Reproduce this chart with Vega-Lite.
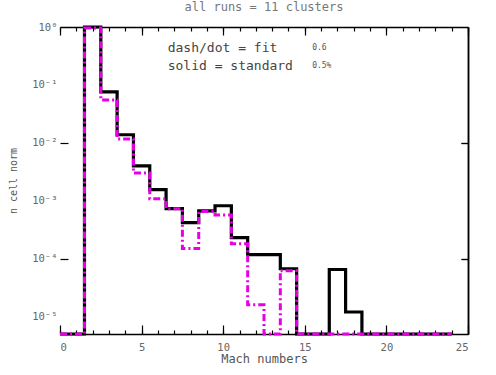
{
  "$schema": "https://vega.github.io/schema/vega-lite/v6.json",
  "width": 408,
  "height": 307,
  "autosize": "none",
  "padding": {"left": 60, "top": 27, "right": 28, "bottom": 41},
  "background": "white",
  "title": {"text": "all runs = 11 clusters", "fontSize": 12, "font": "DejaVu Sans Mono", "fontWeight": "normal", "color": "#777", "offset": 7, "anchor": "middle"},
  "config": {
    "view": {"stroke": null},
    "axis": {"grid": false, "domainWidth": 1.5, "tickWidth": 1.2, "labelFont": "DejaVu Sans Mono", "titleFont": "DejaVu Sans Mono", "labelColor": "#666", "titleColor": "#555", "labelFontSize": 10.5, "titleFontSize": 12, "titleFontWeight": "normal"}
  },
  "datasets": {
    "hist": [
      {"run": "standard", "mach": 0, "n": 5e-6},
      {"run": "standard", "mach": 1, "n": 5e-6},
      {"run": "standard", "mach": 2, "n": 1.0},
      {"run": "standard", "mach": 3, "n": 0.076},
      {"run": "standard", "mach": 4, "n": 0.0138},
      {"run": "standard", "mach": 5, "n": 0.0040},
      {"run": "standard", "mach": 6, "n": 0.00155},
      {"run": "standard", "mach": 7, "n": 0.00073},
      {"run": "standard", "mach": 8, "n": 0.00042},
      {"run": "standard", "mach": 9, "n": 0.00067},
      {"run": "standard", "mach": 10, "n": 0.00082},
      {"run": "standard", "mach": 11, "n": 0.00023},
      {"run": "standard", "mach": 12, "n": 0.000117},
      {"run": "standard", "mach": 13, "n": 0.000117},
      {"run": "standard", "mach": 14, "n": 0.000067},
      {"run": "standard", "mach": 15, "n": 5e-6},
      {"run": "standard", "mach": 16, "n": 5e-6},
      {"run": "standard", "mach": 17, "n": 0.000065},
      {"run": "standard", "mach": 18, "n": 0.000012},
      {"run": "standard", "mach": 19, "n": 5e-6},
      {"run": "standard", "mach": 20, "n": 5e-6},
      {"run": "standard", "mach": 21, "n": 5e-6},
      {"run": "standard", "mach": 22, "n": 5e-6},
      {"run": "standard", "mach": 23, "n": 5e-6},
      {"run": "standard", "mach": 24, "n": 5e-6},
      {"run": "fit", "mach": 0, "n": 5e-6},
      {"run": "fit", "mach": 1, "n": 5e-6},
      {"run": "fit", "mach": 2, "n": 0.96},
      {"run": "fit", "mach": 3, "n": 0.055},
      {"run": "fit", "mach": 4, "n": 0.0117},
      {"run": "fit", "mach": 5, "n": 0.0030},
      {"run": "fit", "mach": 6, "n": 0.00108},
      {"run": "fit", "mach": 7, "n": 0.00073},
      {"run": "fit", "mach": 8, "n": 0.000149},
      {"run": "fit", "mach": 9, "n": 0.00065},
      {"run": "fit", "mach": 10, "n": 0.00057},
      {"run": "fit", "mach": 11, "n": 0.00018},
      {"run": "fit", "mach": 12, "n": 0.000016},
      {"run": "fit", "mach": 13, "n": 5e-6},
      {"run": "fit", "mach": 14, "n": 0.000062},
      {"run": "fit", "mach": 15, "n": 5e-6},
      {"run": "fit", "mach": 16, "n": 5e-6},
      {"run": "fit", "mach": 17, "n": 5e-6},
      {"run": "fit", "mach": 18, "n": 5e-6},
      {"run": "fit", "mach": 19, "n": 5e-6},
      {"run": "fit", "mach": 20, "n": 5e-6},
      {"run": "fit", "mach": 21, "n": 5e-6},
      {"run": "fit", "mach": 22, "n": 5e-6},
      {"run": "fit", "mach": 23, "n": 5e-6},
      {"run": "fit", "mach": 24, "n": 5e-6}
    ],
    "notes": [
      {"mach": 6.6, "n": 0.435, "label": "dash/dot = fit"},
      {"mach": 6.6, "n": 0.213, "label": "solid = standard"}
    ],
    "smallnotes": [
      {"mach": 15.45, "n": 0.435, "label": "0.6"},
      {"mach": 15.45, "n": 0.213, "label": "0.5%"}
    ]
  },
  "layer": [
    {
      "data": {"name": "hist"},
      "transform": [{"filter": "datum.run === 'standard'"}],
      "mark": {"type": "line", "interpolate": "step", "color": "black", "strokeWidth": 3.2},
      "encoding": {
        "x": {"field": "mach", "type": "quantitative", "scale": {"domain": [0, 25], "nice": false, "zero": false},
              "axis": {"orient": "bottom", "values": [0, 5, 10, 15, 20, 25], "tickSize": -9, "labelPadding": 17, "title": "Mach numbers", "titlePadding": 1, "domainColor": "black", "tickColor": "black"}},
        "y": {"field": "n", "type": "quantitative", "scale": {"type": "log", "domain": [5e-6, 1], "nice": false},
              "axis": {"orient": "left", "values": [1, 0.1, 0.01, 0.001, 0.0001, 0.00001], "ticks": false, "domain": false, "domainColor": "transparent", "labelPadding": 3,
                       "labelExpr": "'10' + (round(log(datum.value)/LN10) == 0 ? '⁰' : '⁻' + ['⁰','¹','²','³','⁴','⁵','⁶'][-round(log(datum.value)/LN10)])",
                       "title": "n cell norm", "titleFontSize": 10, "titlePadding": 13}}
      }
    },
    {
      "data": {"name": "hist"},
      "transform": [{"filter": "datum.run === 'fit'"}],
      "mark": {"type": "line", "interpolate": "step", "color": "#e600e6", "strokeWidth": 3, "strokeDash": [7, 3, 2, 3]},
      "encoding": {
        "x": {"field": "mach", "type": "quantitative", "scale": {"domain": [0, 25], "nice": false, "zero": false},
              "axis": {"orient": "bottom", "values": [0,1,2,3,4,5,6,7,8,9,10,11,12,13,14,15,16,17,18,19,20,21,22,23,24,25], "tickSize": -4, "labels": false, "domain": false, "title": null, "tickColor": "black"}},
        "y": {"field": "n", "type": "quantitative", "scale": {"type": "log", "domain": [5e-6, 1], "nice": false},
              "axis": {"orient": "left", "values": [0.01, 0.0001], "tickSize": -8, "labels": false, "domain": false, "domainColor": "transparent", "title": null, "tickColor": "black"}}
      }
    },
    {
      "data": {"name": "notes"},
      "mark": {"type": "text", "align": "left", "baseline": "middle", "font": "DejaVu Sans Mono", "fontSize": 13, "color": "#444"},
      "encoding": {
        "x": {"field": "mach", "type": "quantitative", "scale": {"domain": [0, 25], "nice": false, "zero": false},
              "axis": {"orient": "top", "values": [0, 5, 10, 15, 20, 25], "tickSize": -8, "labels": false, "title": null, "domainColor": "black", "tickColor": "black"}},
        "y": {"field": "n", "type": "quantitative", "scale": {"type": "log", "domain": [5e-6, 1], "nice": false},
              "axis": {"orient": "right", "values": [0.01, 0.0001], "tickSize": -7, "labels": false, "title": null, "domainColor": "black", "tickColor": "black"}},
        "text": {"field": "label"}
      }
    },
    {
      "data": {"name": "smallnotes"},
      "mark": {"type": "text", "align": "left", "baseline": "middle", "font": "DejaVu Sans Mono", "fontSize": 8, "color": "#555"},
      "encoding": {
        "x": {"field": "mach", "type": "quantitative", "scale": {"domain": [0, 25], "nice": false, "zero": false},
              "axis": {"orient": "top", "values": [0,1,2,3,4,5,6,7,8,9,10,11,12,13,14,15,16,17,18,19,20,21,22,23,24,25], "tickSize": -4, "labels": false, "domain": false, "title": null, "tickColor": "black"}},
        "y": {"field": "n", "type": "quantitative", "scale": {"type": "log", "domain": [5e-6, 1], "nice": false},
              "axis": {"orient": "right", "values": [0.01, 0.0001], "tickSize": -7, "labels": false, "domain": true, "title": null, "domainColor": "black", "tickColor": "black"}},
        "text": {"field": "label"}
      }
    }
  ],
  "resolve": {"scale": {"x": "independent", "y": "independent"}, "axis": {"x": "independent", "y": "independent"}}
}
